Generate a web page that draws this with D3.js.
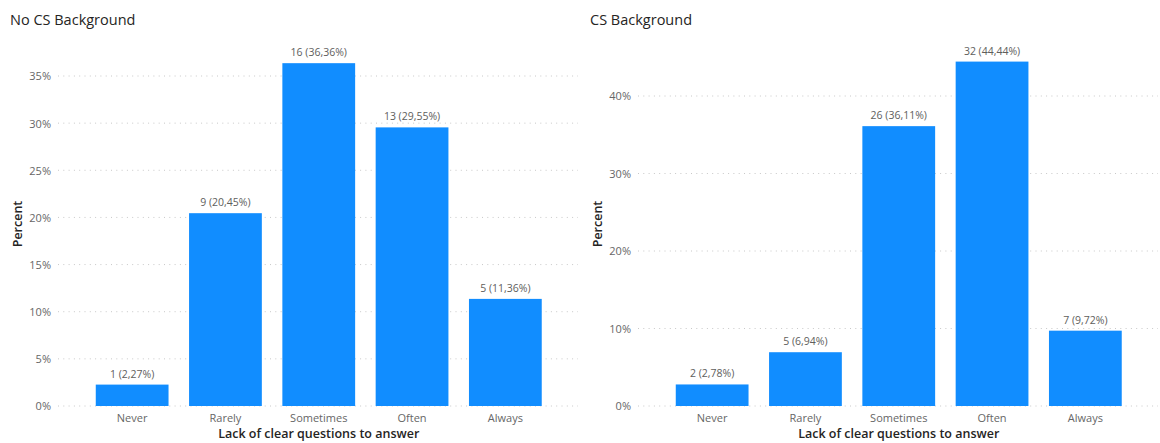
<!DOCTYPE html>
<html>
<head>
<meta charset="utf-8">
<script src="https://cdn.jsdelivr.net/npm/d3@7/dist/d3.min.js"></script>
<style>
  html, body { margin: 0; padding: 0; background: #fff; }
  svg { display: block; }
  text { font-family: "Open Sans", "Noto Sans", sans-serif; }
</style>
</head>
<body>
<svg id="chart" width="1160" height="443"></svg>
<script>
// Survey answers: how often a lack of clear questions was a problem
const categories = ["Never", "Rarely", "Sometimes", "Often", "Always"];

const noCsCounts = [1, 9, 16, 13, 5];
const noCsPercent = [2.27, 20.45, 36.36, 29.55, 11.36];
const noCsTicks = [0, 5, 10, 15, 20, 25, 30, 35];

const csCounts = [2, 5, 26, 32, 7];
const csPercent = [2.78, 6.94, 36.11, 44.44, 9.72];
const csTicks = [0, 10, 20, 30, 40];

const svg = d3.select("#chart");
const barColor = "#118DFF";
const fmtPct = v => v.toFixed(2).replace(".", ",") + "%";

function panel(cfg) {
  const g = svg.append("g");

  const x = d3.scaleBand()
    .domain(categories)
    .range([cfg.bandLeft, cfg.bandRight])
    .paddingInner(0.22)
    .paddingOuter(0.11);

  const y = d3.scaleLinear()
    .domain([0, cfg.topTick])
    .range([406, cfg.topY]);

  // title
  g.append("text")
    .attr("x", cfg.titleX).attr("y", 25)
    .attr("font-size", 14.5).attr("fill", "#252423")
    .text(cfg.title);

  // dotted gridlines + tick labels
  const grid = g.append("g");
  grid.selectAll("line").data(cfg.ticks).join("line")
    .attr("x1", cfg.gridLeft).attr("x2", cfg.gridRight)
    .attr("y1", d => y(d)).attr("y2", d => y(d))
    .attr("stroke", "#c8c8c8").attr("stroke-width", 1)
    .attr("stroke-dasharray", "1,4.3");

  const yAxis = d3.axisLeft(y).tickValues(cfg.ticks)
    .tickFormat(d => d + "%").tickSize(0).tickPadding(0);
  const ya = g.append("g").attr("transform", `translate(${cfg.tickX},0)`).call(yAxis);
  ya.select(".domain").remove();
  ya.selectAll("text")
    .attr("font-size", 11).attr("fill", "#666")
    .attr("font-family", "'Open Sans', 'Noto Sans', sans-serif")
    .attr("dy", "0.35em");

  // bars
  g.selectAll("rect.bar").data(categories).join("rect")
    .attr("class", "bar")
    .attr("x", d => x(d))
    .attr("width", x.bandwidth())
    .attr("y", (d, i) => y(cfg.percent[i]))
    .attr("height", (d, i) => y(0) - y(cfg.percent[i]))
    .attr("fill", barColor);

  // data labels
  g.selectAll("text.val").data(categories).join("text")
    .attr("class", "val")
    .attr("x", d => x(d) + x.bandwidth() / 2)
    .attr("y", (d, i) => y(cfg.percent[i]) - 7)
    .attr("text-anchor", "middle")
    .attr("font-size", 10.5).attr("fill", "#605e5c")
    .text((d, i) => `${cfg.counts[i]} (${fmtPct(cfg.percent[i])})`);

  // category axis
  const xAxis = d3.axisBottom(x).tickSize(0).tickPadding(0);
  const xa = g.append("g").attr("transform", "translate(0,412)").call(xAxis);
  xa.select(".domain").remove();
  xa.selectAll("text")
    .attr("font-size", 11).attr("fill", "#666")
    .attr("font-family", "'Open Sans', 'Noto Sans', sans-serif")
    .attr("dy", "0.95em");

  // axis titles
  g.append("text")
    .attr("x", (cfg.bandLeft + cfg.bandRight) / 2).attr("y", 438)
    .attr("text-anchor", "middle")
    .attr("font-size", 12.5).attr("font-weight", 600).attr("fill", "#252423")
    .text("Lack of clear questions to answer");

  g.append("text")
    .attr("transform", `translate(${cfg.yTitleX},224) rotate(-90)`)
    .attr("text-anchor", "middle")
    .attr("font-size", 12.5).attr("font-weight", 600).attr("fill", "#252423")
    .text("Percent");
}

panel({
  title: "No CS Background", titleX: 10,
  counts: noCsCounts, percent: noCsPercent, ticks: noCsTicks,
  topTick: 35, topY: 76,
  bandLeft: 85.5, bandRight: 552,
  gridLeft: 58, gridRight: 578, tickX: 51, yTitleX: 22
});

panel({
  title: "CS Background", titleX: 590,
  counts: csCounts, percent: csPercent, ticks: csTicks,
  topTick: 40, topY: 96,
  bandLeft: 665.5, bandRight: 1132,
  gridLeft: 638, gridRight: 1158, tickX: 631, yTitleX: 602
});
</script>
</body>
</html>
